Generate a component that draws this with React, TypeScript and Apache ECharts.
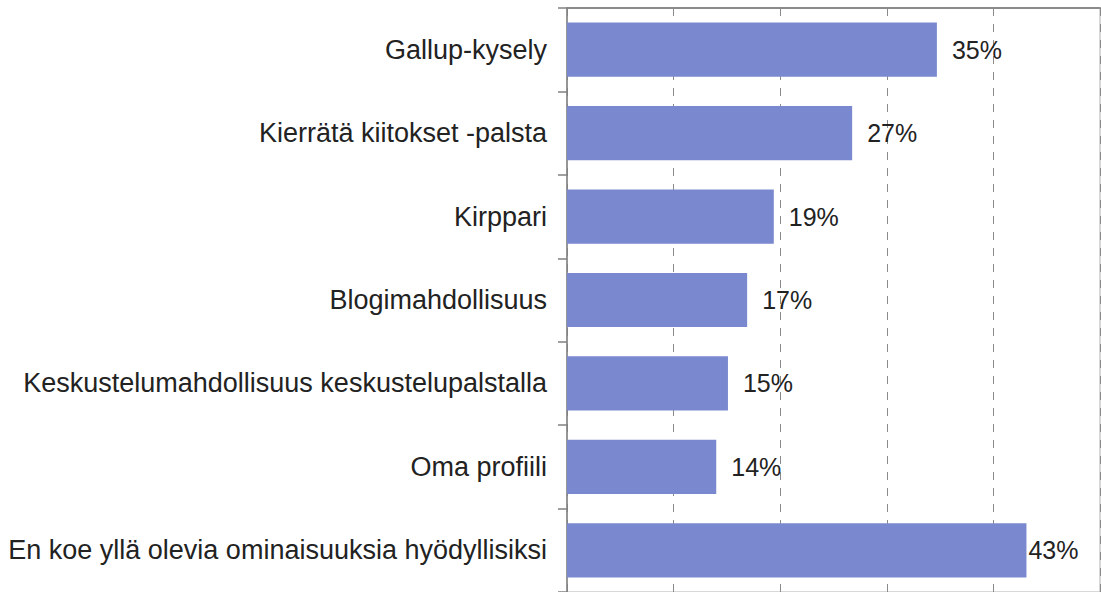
import React, { useEffect, useRef } from "react";
import * as echarts from "echarts";

const categories = [
  "Gallup-kysely",
  "Kierrätä kiitokset -palsta",
  "Kirppari",
  "Blogimahdollisuus",
  "Keskustelumahdollisuus keskustelupalstalla",
  "Oma profiili",
  "En koe yllä olevia ominaisuuksia hyödyllisiksi",
];
const values = [34.7, 26.75, 19.4, 16.9, 15.1, 14.0, 43.1];
const axisMax = 50;
const axisStep = 10;

const FONT = '"Liberation Sans", Arial, sans-serif';

export default function App() {
  const ref = useRef<HTMLDivElement>(null);
  useEffect(() => {
    if (!ref.current) return;
    const chart = echarts.init(ref.current, undefined, { renderer: "svg" });
    const data = values.map((v, i) => ({
      value: v,
      label: { distance: i === values.length - 1 ? 2 : 15 },
    }));
    chart.setOption({
      animation: false,
      textStyle: { fontFamily: FONT },
      grid: {
        left: 567,
        right: 1,
        top: 8,
        bottom: 0,
        show: true,
        borderColor: "#b0b0b0",
        borderWidth: 1,
        containLabel: false,
        outerBoundsMode: "none",
      },
      xAxis: [
        {
          type: "value",
          min: 0,
          max: axisMax,
          interval: axisStep,
          axisLabel: { show: false },
          axisTick: { show: false },
          axisLine: { show: false },
          splitLine: {
            show: true,
            lineStyle: { color: "#8a8a8a", type: [8, 8], width: 1 },
          },
        },
        {
          type: "value",
          position: "top",
          min: 0,
          max: axisMax,
          interval: axisStep,
          axisLabel: { show: false },
          axisTick: { show: false },
          splitLine: { show: false },
          axisLine: { show: true, lineStyle: { color: "#8a8a8a", width: 2 } },
        },
      ],
      yAxis: {
        type: "category",
        data: categories,
        inverse: true,
        axisLine: { show: true, lineStyle: { color: "#808080", width: 1.5 } },
        axisTick: {
          show: true,
          length: 9,
          alignWithLabel: false,
          lineStyle: { color: "#808080", width: 1.5 },
        },
        axisLabel: {
          fontSize: 27,
          color: "#222",
          margin: 20,
          fontFamily: FONT,
        },
        splitLine: { show: false },
      },
      series: [
        {
          type: "bar",
          xAxisIndex: 0,
          data,
          barCategoryGap: "35%",
          itemStyle: { color: "#7a89cf" },
          label: {
            show: true,
            position: "right",
            fontSize: 25,
            color: "#222",
            fontFamily: FONT,
            formatter: (p: any) => Math.round(p.value) + "%",
          },
        },
      ],
    });
    return () => chart.dispose();
  }, []);
  return (
    <div
      ref={ref}
      style={{
        position: "fixed",
        left: 0,
        top: 0,
        width: 1101,
        height: 592,
        background: "#fff",
      }}
    />
  );
}
